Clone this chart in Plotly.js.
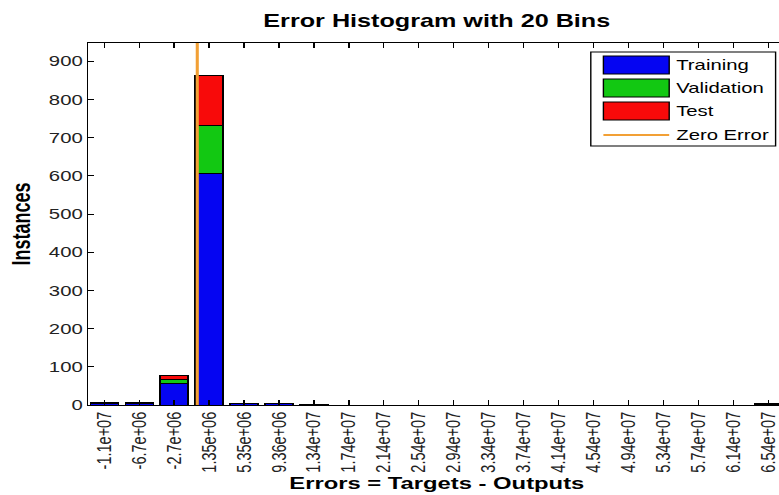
<!DOCTYPE html>
<html>
<head>
<meta charset="utf-8">
<script src="https://cdn.plot.ly/plotly-3.0.1.min.js"></script>
<style>
  html, body { margin:0; padding:0; width:779px; height:495px; overflow:hidden; background:#fff; }
  #wrap { width:570px; height:495px; transform:scaleX(1.4); transform-origin:0 0; }
</style>
</head>
<body>
<div id="wrap"><div id="chart"></div></div>
<script>
// ---- data ----
const binCenters = [-1.065e7, -6.65e6, -2.65e6, 1.35e6, 5.355e6, 9.36e6, 1.3365e7, 1.737e7, 2.1375e7, 2.538e7,
                    2.9385e7, 3.339e7, 3.7395e7, 4.14e7, 4.5405e7, 4.941e7, 5.3415e7, 5.742e7, 6.1425e7, 6.543e7];
const tickLabels = ['-1.1e+07','-6.7e+06','-2.7e+06','1.35e+06','5.35e+06','9.36e+06','1.34e+07','1.74e+07',
                    '2.14e+07','2.54e+07','2.94e+07','3.34e+07','3.74e+07','4.14e+07','4.54e+07','4.94e+07',
                    '5.34e+07','5.74e+07','6.14e+07','6.54e+07'];
const training   = [4, 5, 56, 605, 4, 3, 1, 0, 0, 0, 0, 0, 0, 0, 0, 0, 0, 0, 0, 2];
const validation = [1, 1, 11, 128, 1, 1, 0, 0, 0, 0, 0, 0, 0, 0, 0, 0, 0, 0, 0, 0];
const test       = [1, 0, 10, 131, 0, 1, 1, 0, 0, 0, 0, 0, 0, 0, 0, 0, 0, 0, 0, 1];
const seriesNames = ['Training', 'Validation', 'Test', 'Zero Error'];
const zeroError = 0;
const yTicks = [0, 100, 200, 300, 400, 500, 600, 700, 800, 900];

// ---- styling ----
const colors = ['#0505f2', '#12c812', '#f80a0a', '#f2a035'];
const W = 570, H = 495, L = 63, R = 9, T = 43, B = 90;
const PW = W - L - R, PH = H - T - B;
const binStep = binCenters[1] - binCenters[0];
const xRange = [-1.25e7, 6.74e7];
const yRange = [0, 948];
const FONT = 'Liberation Sans, Arial, sans-serif';

const seriesVals = [training, validation, test];
const data = seriesVals.map((vals, i) => ({
  type: 'bar', x: binCenters, y: vals, name: seriesNames[i],
  width: binStep * 0.8,
  marker: { color: colors[i], line: { color: '#000', width: 1 } },
  showlegend: false, hoverinfo: 'none'
}));
data.push({
  type: 'scatter', mode: 'lines', x: [zeroError, zeroError], y: yRange,
  name: seriesNames[3], line: { color: colors[3], width: 2.2 }, showlegend: false, hoverinfo: 'none'
});

// manual MATLAB-style legend (pixel -> paper helpers)
const fx = px => (px - L) / PW;
const fy = py => (T + PH - py) / PH;
const shapes = [
  { type: 'rect', xref: 'paper', yref: 'paper', x0: fx(422), x1: fx(554), y0: fy(146), y1: fy(52),
    fillcolor: '#fff', line: { color: '#000', width: 1 } }
];
const rowY = [65, 88, 111, 135];
const annotations = [];
for (let i = 0; i < 3; i++) {
  shapes.push({ type: 'rect', xref: 'paper', yref: 'paper', x0: fx(431), x1: fx(478),
    y0: fy(rowY[i] + 9), y1: fy(rowY[i] - 9), fillcolor: colors[i], line: { color: '#000', width: 1 } });
}
shapes.push({ type: 'line', xref: 'paper', yref: 'paper', x0: fx(431), x1: fx(478), y0: fy(rowY[3]), y1: fy(rowY[3]),
  line: { color: colors[3], width: 2 } });
for (let i = 0; i < 4; i++) {
  annotations.push({ xref: 'paper', yref: 'paper', x: fx(481), y: fy(rowY[i]), xanchor: 'left', yanchor: 'middle',
    text: seriesNames[i], showarrow: false, font: { family: FONT, size: 14.5, color: '#000' } });
}

const layout = {
  width: W, height: H,
  margin: { l: L, r: R, t: T, b: B, pad: 0 },
  paper_bgcolor: '#fff', plot_bgcolor: '#fff',
  showlegend: false, barmode: 'stack', bargap: 0,
  title: { text: '<b>Error Histogram with 20 Bins</b>', font: { family: FONT, size: 18, color: '#000' },
           x: 0.5, xref: 'paper', xanchor: 'center', y: 1 - 21 / H, yref: 'container', yanchor: 'middle' },
  xaxis: {
    range: xRange, tickmode: 'array', tickvals: binCenters, ticktext: tickLabels, tickangle: -90,
    ticks: 'inside', ticklen: 5, tickcolor: '#000', tickwidth: 1,
    showline: true, linecolor: '#000', linewidth: 1, mirror: 'ticks',
    showgrid: false, zeroline: false,
    tickfont: { family: FONT, size: 14.5, color: '#222' },
    title: { text: '<b>Errors = Targets - Outputs</b>', font: { family: FONT, size: 17, color: '#000' }, standoff: 5 }
  },
  yaxis: {
    range: yRange, tickmode: 'array', tickvals: yTicks,
    ticks: 'inside', ticklen: 4, tickcolor: '#000', tickwidth: 1,
    showline: true, linecolor: '#000', linewidth: 1, mirror: 'ticks',
    showgrid: false, zeroline: false,
    tickfont: { family: FONT, size: 14.5, color: '#222' },
    title: { text: '<b>Instances</b>', font: { family: FONT, size: 18, color: '#000' }, standoff: 8 }
  },
  shapes: shapes, annotations: annotations
};

Plotly.newPlot('chart', data, layout, { displayModeBar: false, staticPlot: true });
</script>
</body>
</html>
